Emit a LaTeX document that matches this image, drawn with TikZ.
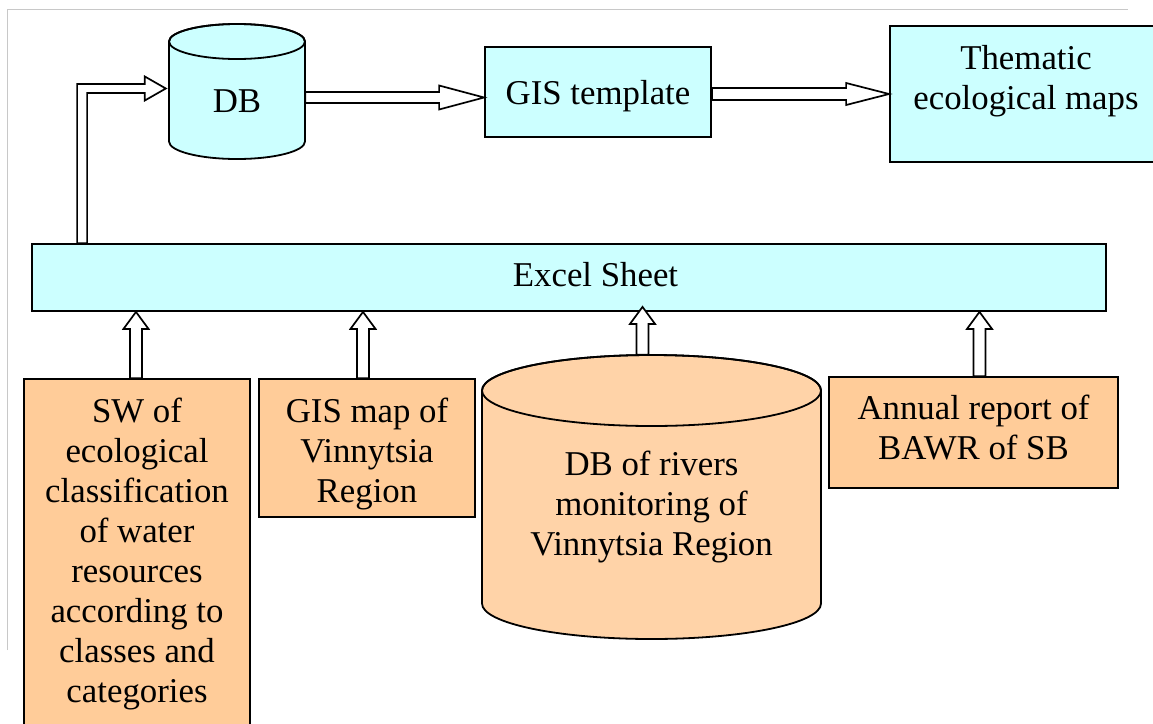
\documentclass[tikz,border=0pt]{standalone}
\usepackage{fontspec}
\setmainfont{Liberation Serif}
\usetikzlibrary{calc}
\definecolor{cyanfill}{HTML}{CCFFFF}
\definecolor{orangefill}{HTML}{FFCC99}
\definecolor{cylfill}{HTML}{FFD3A8}
\definecolor{framegray}{HTML}{C8C8C8}
\tikzset{
  lbl/.style={font=\fontsize{34.8}{40}\selectfont, align=center, inner sep=0pt},
  boxc/.style={lbl, draw=black, line width=1.8pt, fill=cyanfill, anchor=base},
  boxo/.style={lbl, draw=black, line width=1.8pt, fill=orangefill, anchor=base},
  blockarrow/.style={draw=black, fill=white, line width=1.7pt, line join=miter},
  cylline/.style={draw=black, line width=1.8pt},
  framelines/.style={draw=framegray, line width=1pt},
}
% up block arrow: #1 start (bottom), #2 end (tip, only y used)
\newcommand\upblockarrow[2]{%
  \draw[blockarrow] let \p1=#1, \p2=#2 in
    (\x1-6pt,\y1) -- (\x1-6pt,\y2-17pt) -- (\x1-12.5pt,\y2-17pt) -- (\x1,\y2)
    -- (\x1+12.5pt,\y2-17pt) -- (\x1+6pt,\y2-17pt) -- (\x1+6pt,\y1) -- cycle;}
% right block arrow: #1 start, #2 tip (x used), #3 shaft half, #4 head half, #5 head length
\newcommand\rightblockarrow[5]{%
  \draw[blockarrow] let \p1=#1, \p2=#2 in
    (\x1,\y1+#3) -- (\x2-#5,\y1+#3) -- (\x2-#5,\y1+#4) -- (\x2,\y1)
    -- (\x2-#5,\y1-#4) -- (\x2-#5,\y1-#3) -- (\x1,\y1-#3) -- cycle;}
\begin{document}
\begin{tikzpicture}[x=1pt,y=-1pt]
\path[use as bounding box] (0,0) rectangle (1153,723);
\clip (0,0) rectangle (1153,723);
% faint frame
\draw[framelines] (7,650) -- (7,9) -- (1128,9);

% DB cylinder (top)
\path[cylline, fill=cyanfill] (169,41.5) -- (169,141.5)
  arc[start angle=180, end angle=360, x radius=68pt, y radius=17.5pt]
  -- (305,41.5) arc[start angle=0, end angle=180, x radius=68pt, y radius=17.5pt] -- cycle;
\draw[cylline] (237,41.5) ellipse[x radius=68pt, y radius=17.5pt];
\node[lbl, anchor=base, text height=88pt, text depth=47pt, minimum width=136pt] (db) at (237,112) {DB};

% DB of rivers cylinder
\path[cylline, fill=cylfill] (482,390.5) -- (482,603.5)
  arc[start angle=180, end angle=360, x radius=169.5pt, y radius=35.5pt]
  -- (821,390.5) arc[start angle=0, end angle=180, x radius=169.5pt, y radius=35.5pt] -- cycle;
\draw[cylline] (651.5,390.5) ellipse[x radius=169.5pt, y radius=35.5pt];
\node[lbl, anchor=base, text height=200pt, text depth=84pt, minimum width=339pt] (dbr) at (651.5,555) {DB of rivers\\monitoring of\\Vinnytsia Region};

% boxes (base = baseline of the last text line)
\node[boxc, text height=57pt, text depth=33pt, minimum width=226pt] (gist) at (598,104) {GIS template};
\node[boxc, text height=83pt, text depth=53pt, minimum width=272pt] (them) at (1026,109) {Thematic\\ecological maps};
\node[boxc, anchor=center, minimum width=1074pt, minimum height=67pt] (excel) at (569,277.5) {};
\node[lbl, anchor=base] (excellbl) at (595.5,286) {Excel Sheet};
\node[boxo, text height=323pt, text depth=38pt, minimum width=226pt] (sw) at (137,702) {SW of\\ecological\\classification\\of water\\resources\\according to\\classes and\\categories};
\node[boxo, text height=123pt, text depth=15pt, minimum width=216pt] (gism) at (367,502) {GIS map of\\Vinnytsia\\Region};
\node[boxo, text height=82pt, text depth=29pt, minimum width=289pt] (ann) at (973.5,459) {Annual report of\\BAWR of SB};

% arrows up into Excel sheet
\upblockarrow{([xshift=-1pt]sw.north)}{(excel.south)}
\upblockarrow{([xshift=-4pt]gism.north)}{(excel.south)}
\upblockarrow{([xshift=-9pt]dbr.north)}{([yshift=5pt]excel.south)}
\upblockarrow{([xshift=6pt]ann.north)}{(excel.south)}

% bent arrow Excel -> DB
\draw[blockarrow] let \p1=([xshift=51pt]excel.north west), \p2=([xshift=-3pt,yshift=3pt]db.west) in
  (\x1-5pt,\y1) -- (\x1-5pt,\y2+4.5pt) -- (\x2-21pt,\y2+4.5pt) -- (\x2-21pt,\y2+12pt) -- (\x2,\y2)
  -- (\x2-21pt,\y2-12pt) -- (\x2-21pt,\y2-4.5pt) -- (\x1+5pt,\y2-4.5pt) -- (\x1+5pt,\y1) -- cycle;

% right arrows
\rightblockarrow{([yshift=-6pt]db.east)}{(gist.west)}{5.5pt}{12pt}{45pt}
\rightblockarrow{([yshift=-2pt]gist.east)}{(them.west)}{6pt}{11pt}{43pt}
\end{tikzpicture}
\end{document}
